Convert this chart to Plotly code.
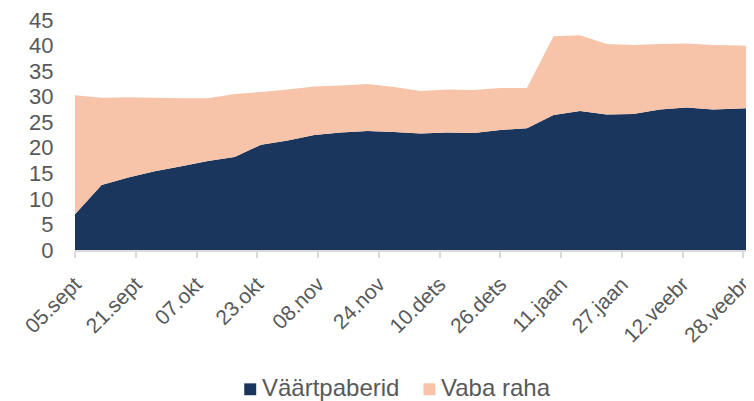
import plotly.graph_objects as go
import pandas as pd

# Weekly observation dates (last one lies just beyond the visible edge)
dates = pd.date_range("2022-09-05", periods=27, freq="7D").strftime("%Y-%m-%d").tolist()

vaartpaberid = [7.0, 12.7, 14.2, 15.4, 16.4, 17.4, 18.2, 20.6, 21.4, 22.5, 23.0, 23.3, 23.1,
                22.8, 23.0, 22.9, 23.5, 23.8, 26.4, 27.2, 26.5, 26.6, 27.5, 27.9, 27.5, 27.7, 27.9]
vaba_raha = [23.3, 17.1, 15.7, 14.4, 13.3, 12.3, 12.3, 10.3, 10.0, 9.5, 9.2, 9.2, 8.8,
             8.3, 8.4, 8.4, 8.2, 7.9, 15.4, 14.8, 13.8, 13.5, 12.8, 12.5, 12.6, 12.3, 11.9]

tick_dates = pd.date_range("2022-09-05", periods=12, freq="16D").strftime("%Y-%m-%d").tolist()
tick_labels = ["05.sept", "21.sept", "07.okt", "23.okt", "08.nov", "24.nov",
               "10.dets", "26.dets", "11.jaan", "27.jaan", "12.veebr", "28.veebr"]
y_ticks = [0, 5, 10, 15, 20, 25, 30, 35, 40, 45]
series_names = ["Väärtpaberid", "Vaba raha"]

NAVY = "#1B365D"
PEACH = "#F8C4A9"
COLORS = [NAVY, PEACH]
FONT = "Arial, Liberation Sans, sans-serif"

fig = go.Figure()
for name, vals, col in zip(series_names, [vaartpaberid, vaba_raha], COLORS):
    fig.add_trace(go.Scatter(x=dates, y=vals, name=name, stackgroup="one",
                             mode="none", fillcolor=col, showlegend=False))

# Page body has an 8px margin: the figure is sized so page = 754x401 exactly;
# plot area then sits at x 75..754, y 18..250 of the window.
OFF = 8
W, H = 746, 393
ML, MR, MT, MB = 67, 0, 10, 151
PW, PH = W - ML - MR, H - MT - MB

def px_x(vx):  # window x -> paper x
    return (vx - OFF - ML) / PW

def px_y(vy):  # window y -> paper y
    return (H - MB - (vy - OFF)) / PH

# Legend (drawn as swatches + labels so it does not push the margins)
legend_sw = [245, 425]
legend_tx = [261, 441]
for sx, tx, name, col in zip(legend_sw, legend_tx, series_names, COLORS):
    fig.add_shape(type="rect", xref="paper", yref="paper",
                  x0=px_x(sx), x1=px_x(sx + 12), y0=px_y(396.5), y1=px_y(384.5),
                  fillcolor=col, line=dict(width=0))
    fig.add_annotation(xref="paper", yref="paper", x=px_x(tx), y=px_y(389),
                       xanchor="left", yanchor="middle", text=name, showarrow=False,
                       font=dict(size=24, color="#595959", family=FONT))

fig.update_layout(
    width=W, height=H,
    margin=dict(l=ML, r=MR, t=MT, b=MB),
    plot_bgcolor="white", paper_bgcolor="white",
    font=dict(family=FONT, color="#595959", size=21),
    showlegend=False,
    xaxis=dict(
        type="date",
        range=["2022-09-05", "2023-03-02"],
        tickvals=tick_dates, ticktext=tick_labels,
        tickangle=-45, ticklabeloverflow="allow", ticklabelstandoff=6,
        showgrid=False, zeroline=False,
        showline=True, linecolor="#D9D9D9", linewidth=1.5,
        ticks="outside", ticklen=6, tickcolor="#D9D9D9", tickwidth=1.5,
        tickfont=dict(size=21, color="#595959"),
    ),
    yaxis=dict(
        range=[0, 45],
        tickvals=y_ticks, ticklabeloverflow="allow",
        showgrid=False, zeroline=False, showline=False,
        ticks="outside", ticklen=16, tickcolor="rgba(0,0,0,0)",
        tickfont=dict(size=22, color="#595959"),
    ),
)

fig.write_html("out.html")
